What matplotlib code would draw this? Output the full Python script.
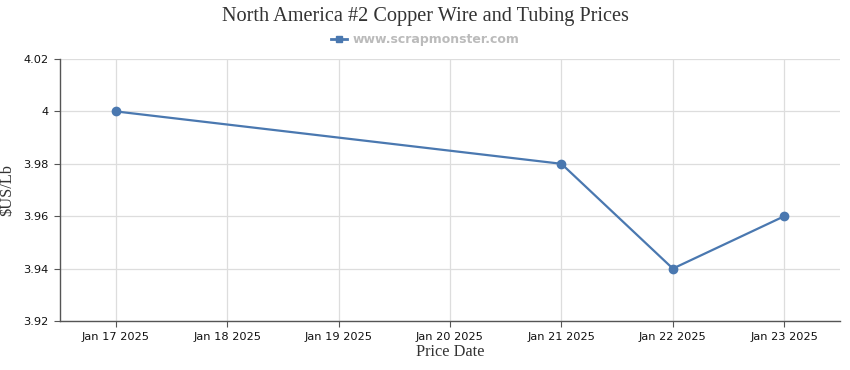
import matplotlib
matplotlib.use("Agg")
import matplotlib.pyplot as plt
import numpy as np
from matplotlib.lines import Line2D

dates = ["Jan 17 2025", "Jan 18 2025", "Jan 19 2025", "Jan 20 2025",
         "Jan 21 2025", "Jan 22 2025", "Jan 23 2025"]
point_dates = ["Jan 17 2025", "Jan 21 2025", "Jan 22 2025", "Jan 23 2025"]
prices = [4.00, 3.98, 3.94, 3.96]
y_ticks = [3.92, 3.94, 3.96, 3.98, 4.00, 4.02]
y_labels = ["3.92", "3.94", "3.96", "3.98", "4", "4.02"]

color = "#4a78b0"

fig = plt.figure(figsize=(8.5, 3.7), dpi=100)
ax = fig.add_axes([60/850, 1-321/370, 780/850, 262/370])

xs = [dates.index(d) for d in point_dates]
ax.plot(xs, prices, color=color, lw=1.6, marker="o", ms=6, zorder=3)

ax.set_xlim(-0.5, len(dates)-0.5)
ax.set_ylim(3.92, 4.02)
ax.set_xticks(range(len(dates)))
ax.set_xticklabels(dates, fontsize=8.2, family="DejaVu Sans")
ax.set_yticks(y_ticks)
ax.set_yticklabels(y_labels, fontsize=8.2, family="DejaVu Sans")
ax.grid(True, color="#dddddd", lw=0.9)
ax.set_axisbelow(True)
for s in ["top", "right"]:
    ax.spines[s].set_visible(False)
for s in ["left", "bottom"]:
    ax.spines[s].set_color("#555555")
    ax.spines[s].set_linewidth(1)
ax.tick_params(axis="both", colors="#555555", length=4, width=0.8, labelcolor="#111111")
ax.tick_params(axis="x", pad=4)
ax.tick_params(axis="y", pad=4)

ax.set_xlabel("Price Date", family="Liberation Serif", fontsize=11.8, color="#333333", labelpad=1)
ax.set_ylabel("$US/Lb", family="Liberation Serif", fontsize=11.8, color="#333333", labelpad=6)

fig.text(0.5, 1-17/370, "North America #2 Copper Wire and Tubing Prices",
         ha="center", va="center", family="Liberation Serif", fontsize=14.6, color="#333333")
handle = Line2D([], [], color=color, marker="s", ms=5, lw=2)
fig.legend([handle], ["www.scrapmonster.com"], loc="center", bbox_to_anchor=(0.5, 1-40/370),
           frameon=False, prop={"family": "DejaVu Sans", "weight": "bold", "size": 9},
           labelcolor="#bbbbbb", handlelength=1.3, handletextpad=0.4)

fig.savefig("out.png", dpi=100)
